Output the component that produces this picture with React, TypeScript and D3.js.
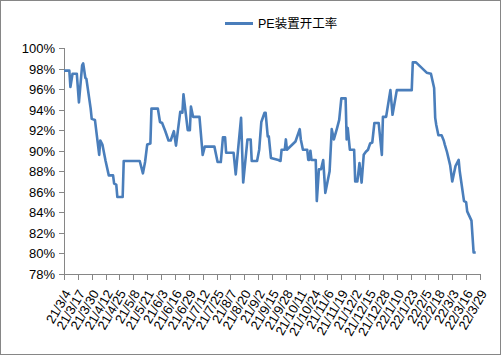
import React from 'react';
import * as d3 from 'd3';

const seriesName = 'PE装置开工率';

const dates = [
  '2021-03-04', '2021-03-09', '2021-03-10', '2021-03-12', '2021-03-16', '2021-03-18', '2021-03-21', '2021-03-22',
  '2021-03-24', '2021-03-25', '2021-03-29', '2021-03-30', '2021-04-02', '2021-04-06', '2021-04-07', '2021-04-09',
  '2021-04-12', '2021-04-15', '2021-04-19', '2021-04-20', '2021-04-22', '2021-04-23', '2021-04-28', '2021-04-29',
  '2021-05-14', '2021-05-17', '2021-05-19', '2021-05-21', '2021-05-24', '2021-05-25', '2021-05-31', '2021-06-02',
  '2021-06-04', '2021-06-07', '2021-06-10', '2021-06-12', '2021-06-15', '2021-06-17', '2021-06-21', '2021-06-23',
  '2021-06-24', '2021-06-28', '2021-06-30', '2021-07-01', '2021-07-03', '2021-07-09', '2021-07-12', '2021-07-14',
  '2021-07-23', '2021-07-26', '2021-07-29', '2021-07-31', '2021-08-02', '2021-08-03', '2021-08-10', '2021-08-12',
  '2021-08-17', '2021-08-19', '2021-08-23', '2021-08-26', '2021-08-27', '2021-09-01', '2021-09-03', '2021-09-05',
  '2021-09-08', '2021-09-09', '2021-09-11', '2021-09-12', '2021-09-14', '2021-09-21', '2021-09-23', '2021-09-24',
  '2021-09-27', '2021-09-28', '2021-09-29', '2021-10-07', '2021-10-11', '2021-10-12', '2021-10-14', '2021-10-18',
  '2021-10-19', '2021-10-20', '2021-10-21', '2021-10-22', '2021-10-26', '2021-10-27', '2021-10-29', '2021-10-31',
  '2021-11-02', '2021-11-04', '2021-11-08', '2021-11-10', '2021-11-12', '2021-11-15', '2021-11-17', '2021-11-19',
  '2021-11-23', '2021-11-24', '2021-11-25', '2021-11-27', '2021-12-01', '2021-12-02', '2021-12-04', '2021-12-06',
  '2021-12-08', '2021-12-10', '2021-12-12', '2021-12-14', '2021-12-16', '2021-12-18', '2021-12-20', '2021-12-24',
  '2021-12-27', '2021-12-28', '2021-12-31', '2022-01-04', '2022-01-06', '2022-01-10', '2022-01-24', '2022-01-25',
  '2022-01-28', '2022-02-07', '2022-02-11', '2022-02-14', '2022-02-15', '2022-02-16', '2022-02-18', '2022-02-21',
  '2022-02-23', '2022-02-24', '2022-02-26', '2022-03-01', '2022-03-03', '2022-03-06', '2022-03-09', '2022-03-10',
  '2022-03-14', '2022-03-16', '2022-03-17', '2022-03-21', '2022-03-23', '2022-03-25',
];

const rates = [
  97.8, 97.8, 96.2, 97.5, 97.5, 94.7, 98.3, 98.5,
  97.1, 97.0, 94.1, 93.1, 93.0, 89.6, 91.0, 90.6,
  89.0, 87.6, 87.6, 86.8, 86.7, 85.5, 85.5, 89.0,
  89.0, 87.8, 88.9, 90.6, 90.7, 94.1, 94.1, 92.8,
  92.7, 91.9, 91.0, 91.0, 91.9, 90.5, 93.8, 93.7,
  95.5, 92.0, 92.0, 94.3, 93.3, 93.3, 89.6, 90.4,
  90.4, 88.9, 88.9, 91.3, 91.3, 89.8, 89.8, 87.7,
  93.2, 86.9, 91.1, 91.1, 89.0, 89.0, 90.1, 92.8,
  93.7, 93.7, 91.4, 91.4, 89.3, 89.1, 89.0, 90.1,
  90.1, 91.1, 90.1, 90.9, 92.1, 91.1, 90.1, 90.1,
  89.1, 89.1, 90.0, 89.1, 89.1, 85.1, 88.2, 88.2,
  89.1, 85.9, 88.0, 92.1, 91.1, 92.2, 93.0, 95.1,
  95.1, 91.1, 92.2, 90.1, 90.1, 87.0, 87.0, 88.8,
  86.9, 89.6, 89.9, 90.1, 90.7, 90.8, 92.7, 92.7,
  89.6, 93.3, 93.3, 95.9, 93.5, 95.9, 95.9, 98.6,
  98.6, 97.6, 97.5, 96.1, 93.2, 92.5, 91.5, 91.5,
  91.0, 90.6, 89.9, 88.6, 87.0, 88.5, 89.1, 88.0,
  85.1, 85.0, 84.1, 83.2, 80.1, 80.1,
];

const axisStart = '2021-03-04';
const axisEnd = '2022-03-29';
const tickStepDays = 13;
const yTicks = [78, 80, 82, 84, 86, 88, 90, 92, 94, 96, 98, 100];

const width = 501;
const height = 355;
const margin = { top: 48, right: 21, bottom: 81, left: 64 };
const font = '"Liberation Sans", "Noto Sans CJK SC", sans-serif';
const lineColor = '#4a7ebb';
const axisColor = '#868686';

const parse = d3.timeParse('%Y-%m-%d');
const fmt = d3.timeFormat('%y/%-m/%-d');

export default function App() {
  const start = parse(axisStart) as Date;
  const end = parse(axisEnd) as Date;

  const x = d3.scaleTime()
    .domain([start, end])
    .range([margin.left, width - margin.right]);

  const y = d3.scaleLinear()
    .domain([78, 100])
    .range([height - margin.bottom, margin.top]);

  const points: [Date, number][] = dates.map((d, i) => [parse(d) as Date, rates[i]]);
  const line = d3.line<[Date, number]>()
    .x(d => x(d[0]))
    .y(d => y(d[1]));

  const xTicks = d3.timeDay.range(start, d3.timeDay.offset(end, 1), tickStepDays);
  const baseY = height - margin.bottom;

  return (
    <svg width={width} height={height} style={{ position: 'absolute', left: 0, top: 0, display: 'block' }} fontFamily={font}>
      <rect x={0.5} y={0.5} width={width - 1} height={height - 1} fill="#fff" stroke={axisColor} />

      {/* legend */}
      <line x1={225} x2={253} y1={23.5} y2={23.5} stroke={lineColor} strokeWidth={3} />
      <text x={258} y={28} fontSize={12.5} fill="#000">{seriesName}</text>

      {/* y axis */}
      <line x1={margin.left + 0.5} x2={margin.left + 0.5} y1={margin.top} y2={baseY} stroke={axisColor} />
      {yTicks.map(t => (
        <g key={t} transform={`translate(0,${Math.round(y(t)) + 0.5})`}>
          <line x1={margin.left - 5} x2={margin.left} stroke={axisColor} />
          <text x={margin.left - 9} dy="0.35em" textAnchor="end" fontSize={13} fill="#000">{t}%</text>
        </g>
      ))}

      {/* x axis */}
      <line x1={margin.left} x2={width - margin.right + 0.5} y1={baseY + 0.5} y2={baseY + 0.5} stroke={axisColor} />
      {xTicks.map(t => {
        const tx = Math.round(x(t)) + 0.5;
        return (
          <g key={+t}>
            <line x1={tx} x2={tx} y1={baseY} y2={baseY + 6} stroke={axisColor} />
            <text
              transform={`translate(${tx + 3},${baseY + 17}) rotate(-60)`}
              textAnchor="end"
              dy="0.35em"
              fontSize={13}
              fill="#000"
            >
              {fmt(t)}
            </text>
          </g>
        );
      })}

      <path d={line(points) ?? ''} fill="none" stroke={lineColor} strokeWidth={2.6} strokeLinejoin="round" />
    </svg>
  );
}
